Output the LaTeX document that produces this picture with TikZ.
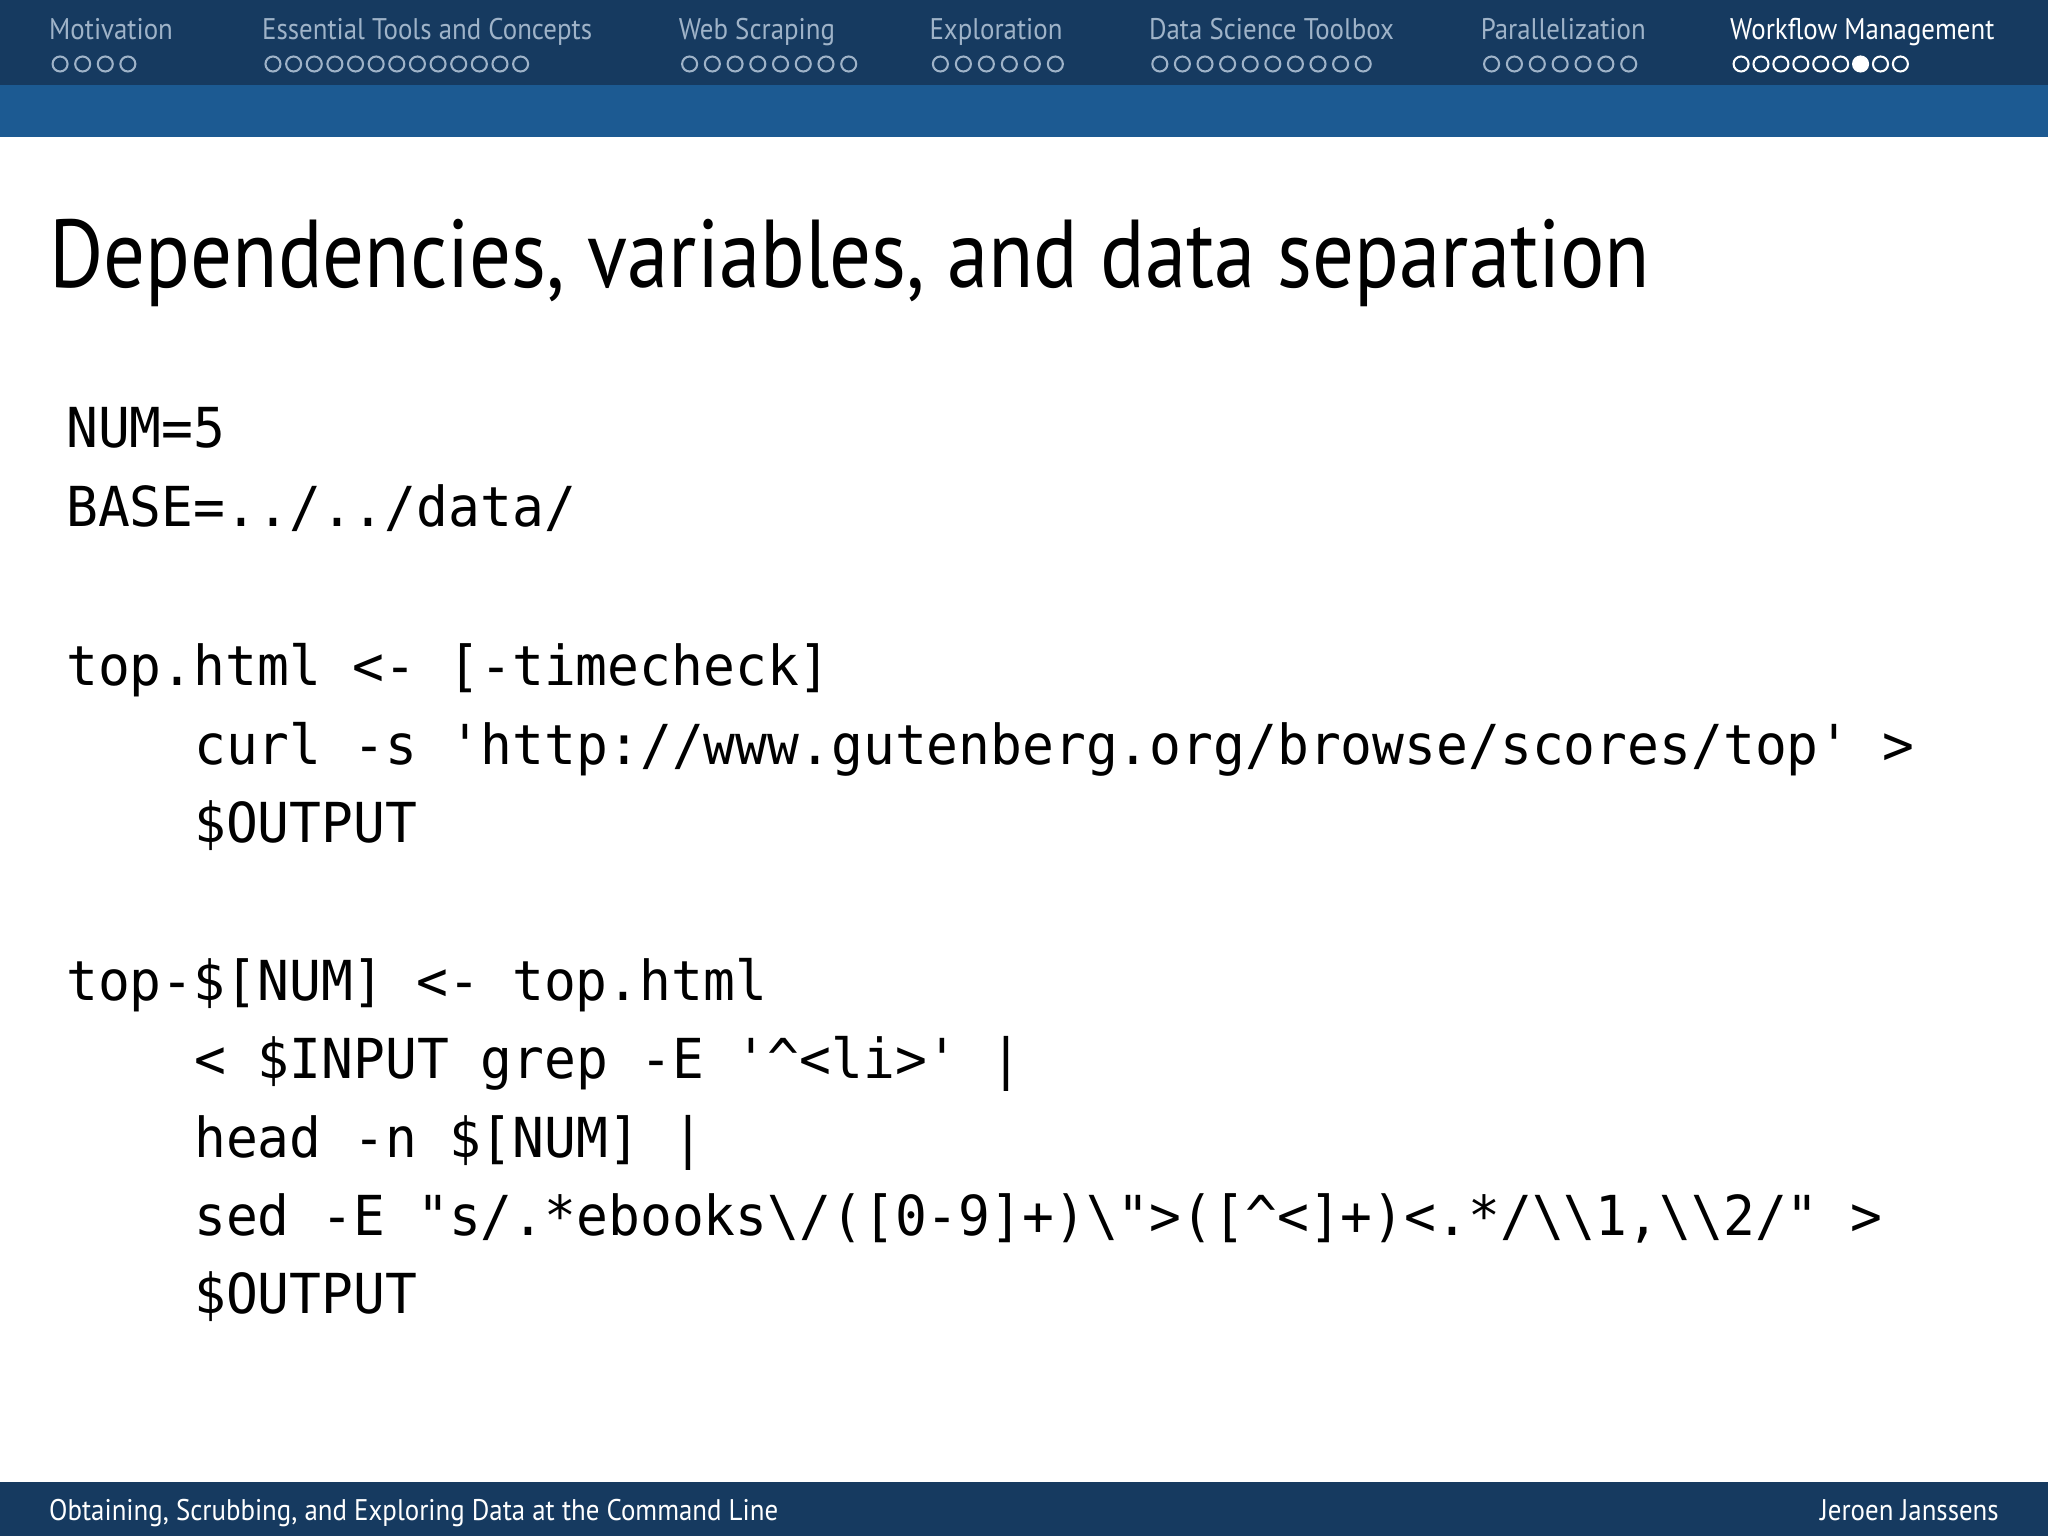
\documentclass[tikz,border=0pt]{standalone}
\usepackage{fontspec}
\setmainfont{PT Sans}
\newfontfamily\narrowsans[FakeStretch=0.9]{PT Sans}
\newfontfamily\titlesans[FakeStretch=0.86]{PT Sans}
\newfontfamily\code[FakeStretch=0.96]{DejaVu Sans Mono}
\definecolor{navy}{HTML}{163A60}
\definecolor{midblue}{HTML}{1C5A92}
\definecolor{navtxt}{HTML}{9FB3C8}
\newcommand{\bsl}{\char92\relax}
\newcommand{\crt}{\char94\relax}
\begin{document}
\begin{tikzpicture}[x=0.01cm,y=-0.01cm,
  navlbl/.style={anchor=base west,inner sep=0,font=\narrowsans\fontsize{6.5}{8}\selectfont,text=navtxt},
  codeln/.style={anchor=base west,inner sep=0,font=\code\fontsize{12}{14}\selectfont},
  dotc/.style={circle,draw=navtxt,line width=0.45pt,minimum size=11.5*0.01cm,inner sep=0}]
\useasboundingbox (0,0) rectangle (1568,1176);
\fill[navy] (0,0) rectangle (1568,65);
\fill[midblue] (0,65) rectangle (1568,105);
\fill[navy] (0,1135) rectangle (1568,1176);
% nav
\node[navlbl] (n1) at (37,30) {Motivation};
\node[navlbl] (n2) at (200,30) {Essential Tools and Concepts};
\node[navlbl] (n3) at (519,30) {Web Scraping};
\node[navlbl] (n4) at (711,30) {Exploration};
\node[navlbl] (n5) at (879,30) {Data Science Toolbox};
\node[navlbl] (n6) at (1133,30) {Parallelization};
\node[navlbl,text=white] (n7) at (1324,30) {Workflow Management};
\foreach \x/\n/\s in {46/4/17.3, 209/13/15.8, 528/8/17.4, 720/6/17.6, 888/10/17.3, 1142/7/17.5}{
  \foreach \i in {1,...,\n}{
    \node[dotc] (d\x-\i) at ({\x+(\i-1)*\s},49) {};
  }
}
\foreach \i in {1,2,3,4,5,6,8,9}{\node[dotc,draw=white] (w\i) at ({1333+(\i-1)*15.25},49) {};}
\node[dotc,draw=white,fill=white] (w7) at ({1333+6*15.25},49) {};
% title
\node[anchor=base west,inner sep=0,font=\titlesans\fontsize{21}{25}\selectfont] (title) at (37,220) {Dependencies, variables, and data separation};
% code
\node[codeln] (c1) at (50,343) {NUM=5};
\node[codeln] (c2) at (50,403) {BASE=../../data/};
\node[codeln] (c3) at (50,525) {top.html <- [-timecheck]};
\node[codeln] (c4) at (148,585) {curl -s 'http://www.gutenberg.org/browse/scores/top' >};
\node[codeln] (c5) at (148,645) {\$OUTPUT};
\node[codeln] (c6) at (50,766) {top-\$[NUM] <- top.html};
\node[codeln] (c7) at (148,826) {< \$INPUT grep -E '\crt<li>' |};
\node[codeln] (c8) at (148,886) {head -n \$[NUM] |};
\node[codeln] (c9) at (148,946) {sed -E "s/.*ebooks\bsl/([0-9]+)\bsl">([\crt<]+)<.*/\bsl\bsl1,\bsl\bsl2/" >};
\node[codeln] (c10) at (148,1006) {\$OUTPUT};
% footer
\node[navlbl,text=white] (f1) at (37,1164) {Obtaining, Scrubbing, and Exploring Data at the Command Line};
\node[navlbl,text=white,anchor=base east] (f2) at (1531,1164) {Jeroen Janssens};
\end{tikzpicture}
\end{document}
